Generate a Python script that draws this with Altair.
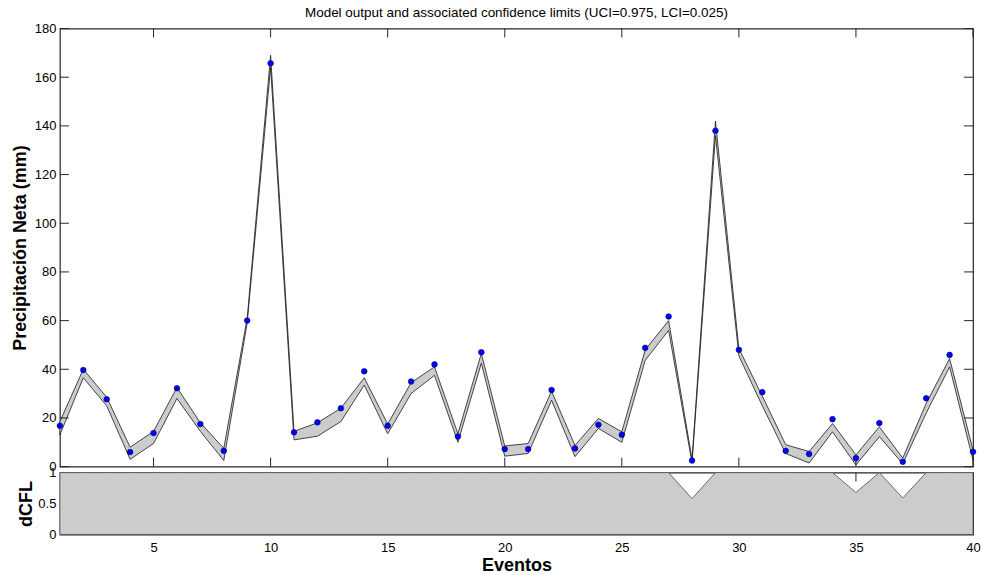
import altair as alt
import pandas as pd

# ---------------- data ----------------
eventos = list(range(1, 41))
observado = [16.8, 39.7, 27.7, 6.0, 13.8, 32.2, 17.5, 6.5, 60.0, 165.7,
             14.1, 18.2, 24.0, 39.2, 16.8, 35.0, 42.0, 12.4, 47.0, 7.2,
             7.2, 31.5, 7.5, 17.2, 13.1, 48.8, 61.7, 2.5, 138.0, 48.0,
             30.6, 6.5, 5.2, 19.5, 3.5, 17.9, 2.0, 28.1, 45.9, 6.1]
limite_inferior = [13.0, 36.5, 25.0, 3.0, 9.5, 28.0, 14.5, 2.5, 59.0, 164.0,
                   11.0, 12.5, 18.5, 33.5, 13.5, 30.0, 37.5, 10.0, 42.5, 4.3,
                   5.4, 27.3, 4.1, 15.7, 10.0, 43.7, 56.0, 1.5, 136.0, 45.5,
                   25.0, 5.4, 1.5, 14.3, 0.7, 12.3, 1.2, 22.0, 41.0, 2.7]
limite_superior = [18.5, 40.0, 28.5, 8.0, 14.5, 32.5, 18.0, 7.5, 61.0, 169.0,
                   14.5, 18.0, 24.0, 36.5, 17.5, 34.5, 41.0, 13.5, 46.5, 8.5,
                   9.5, 31.0, 8.7, 19.8, 14.3, 48.0, 60.0, 3.0, 142.0, 48.5,
                   29.0, 9.0, 6.2, 17.7, 4.8, 16.4, 3.5, 26.0, 44.4, 6.8]
dcfl = [1, 1, 1, 1, 1, 1, 1, 1, 1, 1,
        1, 1, 1, 1, 1, 1, 1, 1, 1, 1,
        1, 1, 1, 1, 1, 1, 1, 0.58, 1, 1,
        1, 1, 1, 1, 0.68, 1, 0.59, 1, 1, 1]
x_ticks = [5, 10, 15, 20, 25, 30, 35, 40]
y_ticks = [0, 20, 40, 60, 80, 100, 120, 140, 160, 180]
dcfl_ticks = [0, 0.5, 1]

titulo = "Model output and associated confidence limits (UCI=0.975, LCI=0.025)"

df = pd.DataFrame({"evento": eventos, "obs": observado,
                   "lo": limite_inferior, "hi": limite_superior, "dcfl": dcfl})
xt = pd.DataFrame({"evento": x_ticks})
yt = pd.DataFrame({"val": y_ticks})

W, H1, H2 = 915, 439, 62
TL = 9
FONT = "Liberation Sans"
EDGE = "#262626"

xscale = alt.Scale(domain=[1, 40], nice=False, zero=False)
yscale = alt.Scale(domain=[0, 180], nice=False)
dscale = alt.Scale(domain=[0, 1], nice=False)

y_axis = alt.Axis(values=y_ticks, ticks=False, domain=False, grid=False,
                  labelPadding=4, labelFontSize=13, labelFont=FONT, labelColor="#000",
                  title="Precipitación Neta (mm)", titleFont=FONT, titleFontSize=18,
                  titleFontWeight="bold", titlePadding=5, titleColor="#000")

# ---------- top panel ----------
band = alt.Chart(df).mark_area(fill="#cccccc", stroke="#1a1a1a", strokeWidth=0.8).encode(
    x=alt.X("evento:Q", scale=xscale, axis=None),
    y=alt.Y("lo:Q", scale=yscale, axis=y_axis),
    y2="hi:Q",
)
pts = alt.Chart(df).mark_point(filled=True, fill="#0000ff", stroke="#00005a",
                               strokeWidth=0.6, size=32, opacity=1).encode(
    x=alt.X("evento:Q", scale=xscale, axis=None),
    y=alt.Y("obs:Q", scale=yscale, axis=y_axis),
)
top_t = alt.Chart(xt).mark_rule(color=EDGE, strokeWidth=1).encode(
    x=alt.X("evento:Q", scale=xscale, axis=None), y=alt.value(0), y2=alt.value(TL))
bot_t = alt.Chart(xt).mark_rule(color=EDGE, strokeWidth=1).encode(
    x=alt.X("evento:Q", scale=xscale, axis=None), y=alt.value(H1), y2=alt.value(H1 - TL))
left_t = alt.Chart(yt).mark_rule(color=EDGE, strokeWidth=1).encode(
    y=alt.Y("val:Q", scale=yscale, axis=y_axis), x=alt.value(0), x2=alt.value(TL))
right_t = alt.Chart(yt).mark_rule(color=EDGE, strokeWidth=1).encode(
    y=alt.Y("val:Q", scale=yscale, axis=y_axis), x=alt.value(W), x2=alt.value(W - TL))

top = alt.layer(band, top_t, bot_t, left_t, right_t, pts).properties(
    width=W, height=H1,
    title=alt.TitleParams(titulo, font=FONT, fontSize=13.5, fontWeight="normal",
                          color="#000", anchor="middle", frame="group", offset=3),
)

# ---------- bottom panel ----------
x_axis = alt.Axis(values=x_ticks, ticks=False, domain=False, grid=False,
                  labelPadding=7, labelFontSize=13, labelFont=FONT, labelColor="#000",
                  labelFlush=False,
                  title="Eventos", titleFont=FONT, titleFontSize=18,
                  titleFontWeight="bold", titlePadding=2, titleColor="#000")
d_axis = alt.Axis(values=dcfl_ticks, format="~g", ticks=False, domain=False, grid=False,
                  labelPadding=4, labelFontSize=13, labelFont=FONT, labelColor="#000",
                  title="dCFL", titleFont=FONT, titleFontSize=18,
                  titleFontWeight="bold", titlePadding=2, titleColor="#000")

dtop_t = alt.Chart(xt).mark_rule(color=EDGE, strokeWidth=1).encode(
    x=alt.X("evento:Q", scale=xscale, axis=x_axis), y=alt.value(0), y2=alt.value(TL))
darea = alt.Chart(df).mark_area(fill="#cccccc", stroke="#4d4d4d", strokeWidth=0.8).encode(
    x=alt.X("evento:Q", scale=xscale, axis=x_axis),
    y=alt.Y("dcfl:Q", scale=dscale, axis=d_axis),
    y2=alt.datum(0),
)
bottom = alt.layer(dtop_t, darea).properties(width=W, height=H2)

chart = alt.vconcat(top, bottom, spacing=6, bounds="flush").properties(
    padding={"left": 10, "top": 4, "right": 0, "bottom": 0},
    background="white",
).configure_view(stroke=EDGE, strokeWidth=1.2)

chart.save("out.html", embed_options={"renderer": "svg", "actions": False})
